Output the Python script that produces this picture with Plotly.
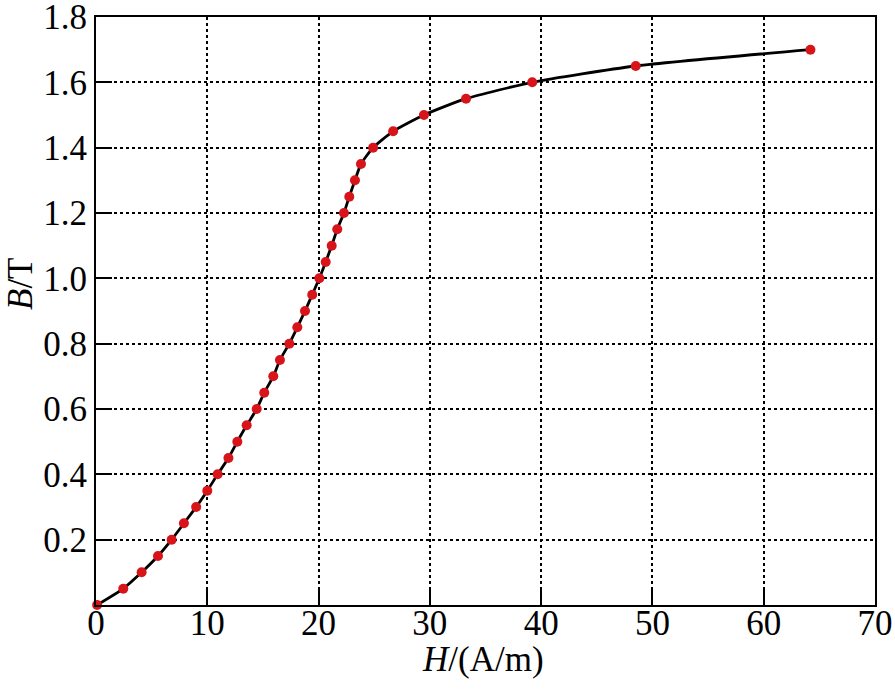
import plotly.graph_objects as go

H_values = [0.1, 2.45, 4.1, 5.57, 6.8, 7.9, 9.0, 10.0, 10.93, 11.9, 12.7, 13.54,
            14.44, 15.12, 15.93, 16.53, 17.37, 18.09, 18.78, 19.43, 20.07, 20.64,
            21.18, 21.68, 22.28, 22.76, 23.27, 23.81, 24.9, 26.7, 29.47, 33.25,
            39.2, 48.5, 64.2]
B_values = [0.0, 0.05, 0.10, 0.15, 0.20, 0.25, 0.30, 0.35, 0.40, 0.45, 0.50, 0.55,
            0.60, 0.65, 0.70, 0.75, 0.80, 0.85, 0.90, 0.95, 1.00, 1.05,
            1.10, 1.15, 1.20, 1.25, 1.30, 1.35, 1.40, 1.45, 1.50, 1.55,
            1.60, 1.65, 1.70]

x_ticks = [0, 10, 20, 30, 40, 50, 60, 70]
y_ticks = [0.2, 0.4, 0.6, 0.8, 1.0, 1.2, 1.4, 1.6, 1.8]
y_tick_text = ["0.2", "0.4", "0.6", "0.8", "1.0", "1.2", "1.4", "1.6", "1.8"]

x_title = "<i>H</i>/(A/m)"
y_title = "<i>B</i>/T"

FONT = "Liberation Serif, Times New Roman, serif"
FS = 35

W, Hpx = 895, 689
ML, MR, MT, MB = 96, 20, 17, 84
PW, PH = W - ML - MR, Hpx - MT - MB

fig = go.Figure()
fig.add_trace(go.Scatter(
    x=H_values, y=B_values, mode="lines",
    line=dict(color="black", width=2.8, shape="spline", smoothing=0.6),
    hoverinfo="skip", cliponaxis=False, showlegend=False))
fig.add_trace(go.Scatter(
    x=H_values, y=B_values, mode="markers",
    marker=dict(color="#d7141a", size=10, line=dict(width=0)),
    cliponaxis=False, showlegend=False))

axis_common = dict(
    showline=True, linecolor="black", linewidth=2, mirror=True,
    ticks="inside", ticklen=16, tickwidth=2, tickcolor="black",
    showgrid=True, gridcolor="black", gridwidth=1.5, griddash="dot",
    zeroline=False, automargin=False, ticklabeloverflow="allow",
    tickfont=dict(family=FONT, size=FS, color="black"),
)

fig.update_xaxes(range=[0, 70], tickvals=x_ticks, ticktext=[str(v) for v in x_ticks],
                 ticklabelstandoff=-14, **axis_common)
fig.update_yaxes(range=[0, 1.8], tickvals=y_ticks, ticktext=y_tick_text,
                 **axis_common)

# axis titles placed as annotations (paper coordinates)
fig.add_annotation(text=x_title, xref="paper", yref="paper",
                   x=(483 - ML) / PW, y=(MT + PH - 659) / PH,
                   xanchor="center", yanchor="middle", showarrow=False,
                   font=dict(family=FONT, size=FS, color="black"))
fig.add_annotation(text=y_title, xref="paper", yref="paper",
                   x=(20 - ML) / PW, y=(MT + PH - 284) / PH,
                   xanchor="center", yanchor="middle", showarrow=False, textangle=-90,
                   font=dict(family=FONT, size=FS, color="black"))

fig.update_layout(
    width=W, height=Hpx,
    margin=dict(l=ML, r=MR, t=MT, b=MB),
    paper_bgcolor="white", plot_bgcolor="white",
    showlegend=False,
)

fig.write_html("out.html")
